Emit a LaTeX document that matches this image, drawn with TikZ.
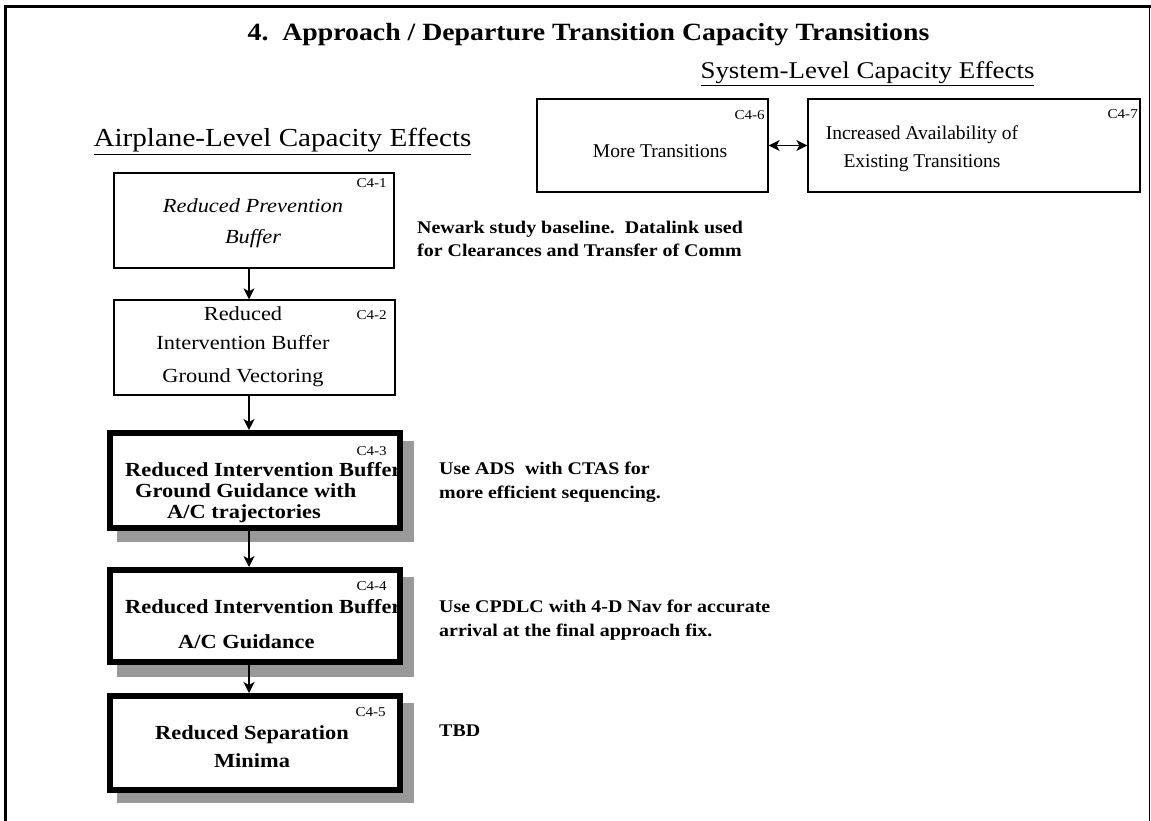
\documentclass[tikz,border=0pt]{standalone}
\usepackage{fontspec}
\setmainfont[FakeStretch=1.12]{Liberation Serif}
\newfontfamily\plainserif{Liberation Serif}
\usetikzlibrary{arrows.meta}
\newcommand\sz[2]{\fontsize{#1}{#2}\selectfont}
\definecolor{shade}{gray}{0.6}
\begin{document}
\begin{tikzpicture}[x=1pt,y=-1pt,
  thinbox/.style={draw, line width=1.3pt, inner sep=0pt},
  thickbox/.style={draw, fill=white, line width=6pt, inner sep=0pt,
    minimum width=290pt},
  txt/.style={inner sep=0pt, align=center, font=\sz{20}{24}},
  boldtxt/.style={txt, font=\bfseries\sz{20}{21}},
  tag/.style={inner sep=0pt, anchor=east, font=\sz{13.5}{15}},
  note/.style={inner sep=0pt, align=left, anchor=base west, font=\bfseries\sz{17.8}{23}},
  arr/.style={-{Stealth[length=11pt,width=11pt,inset=3pt]}, line width=1.3pt},
  dblarr/.style={{Stealth[length=11pt,width=11pt,inset=3pt]}-{Stealth[length=11pt,width=11pt,inset=3pt]}, line width=1.3pt},
  shadow/.style={fill=shade}]
\useasboundingbox (0,0) rectangle (1151,821);

% frame of the slide
\draw[line width=3pt] (5.5,821) -- (5.5,6.5) -- (1151,6.5);
\draw[shade, line width=1.5pt] (1149.5,7) -- (1149.5,821);

% headings
\node[inner sep=0pt, anchor=base, font=\bfseries\sz{24.8}{28}] (title) at (588.5,41)
  {4.\ \ Approach / Departure Transition Capacity Transitions};
\node[inner sep=0pt, anchor=base, font=\sz{24}{28}] (syshead) at (867.5,79)
  {\underline{System-Level Capacity Effects}};
\node[inner sep=0pt, anchor=base, font=\sz{26}{30}] (aphead) at (282.5,147)
  {\underline{Airplane-Level Capacity Effects}};

% system-level boxes
\node[thinbox, minimum width=231pt, minimum height=93pt] (b6) at (652.5,145.5) {};
\node[thinbox, minimum width=332pt, minimum height=93pt] (b7) at (974,145.5) {};
\node[txt, font=\plainserif\sz{19.5}{24}] (t6) at (660,151) {More Transitions};
\node[txt, font=\plainserif\sz{19.5}{28}] (t7) at (922,149) {Increased Availability of\\Existing Transitions};
\node[tag] (c6) at (765,115) {C4-6};
\node[tag] (c7) at (1138,114) {C4-7};
\draw[dblarr] (b6.east) -- (b7.west);

% airplane-level chain
\coordinate (ax) at (249,0);

\node[thinbox, minimum width=280pt, minimum height=95pt] (b1) at (254,220.5) {};
\node[txt, font=\itshape\sz{20}{31}] (t1) at (253,223) {Reduced Prevention\\Buffer};
\node[tag] (c1) at (387,183) {C4-1};

\node[thinbox, minimum width=281pt, minimum height=95pt] (b2) at (254.5,347.5) {};
\node[txt, font=\sz{20}{29}] (t2) at (243,347) {Reduced\\Intervention Buffer\\[4pt]Ground Vectoring};
\node[tag] (c2) at (387,315) {C4-2};

\fill[shadow] (117,441) rectangle (414,542);
\node[thickbox, minimum height=95pt] (b3) at (255,480.5) {};
\begin{scope}
  \clip (b3.north west) rectangle (b3.south east);
  \node[boldtxt, align=left, anchor=north west] (t3) at (125,462)
    {Reduced Intervention Buffer\\\hspace*{10pt}Ground Guidance with\\\hspace*{42pt}A/C trajectories};
\end{scope}
\node[tag] (c3) at (387,451) {C4-3};

\fill[shadow] (117,577) rectangle (414,677);
\node[thickbox, minimum height=92pt] (b4) at (255,616) {};
\begin{scope}
  \clip (b4.north west) rectangle (b4.south east);
  \node[boldtxt, align=left, anchor=north west, font=\bfseries\sz{20}{35}] (t4) at (125,599)
    {Reduced Intervention Buffer\\\hspace*{53pt}A/C Guidance};
\end{scope}
\node[tag] (c4) at (387,586) {C4-4};

\fill[shadow] (117,703) rectangle (414,803);
\node[thickbox, minimum height=94pt] (b5) at (255,743) {};
\node[boldtxt, font=\bfseries\sz{20}{28}] (t5) at (252,747) {Reduced Separation\\Minima};
\node[tag] (c5) at (386,712) {C4-5};

\draw[arr] (b1.south -| ax) -- (b2.north -| ax);
\draw[arr] (b2.south -| ax) -- (b3.north -| ax);
\draw[arr] (b3.south -| ax) -- (b4.north -| ax);
\draw[arr] (b4.south -| ax) -- (b5.north -| ax);

% notes beside the chain (anchored at the baseline of their last line)
\node[note] (n1) at (417,256) {Newark study baseline.\ \ Datalink used\\for Clearances and Transfer of Comm};
\node[note, font=\bfseries\sz{17.8}{24}] (n3) at (439,498) {Use ADS\ \ with CTAS for\\more efficient sequencing.};
\node[note, font=\bfseries\sz{17.8}{24}] (n4) at (439,636) {Use CPDLC with 4-D Nav for accurate\\arrival at the final approach fix.};
\node[note] (n5) at (439,736) {TBD};
\end{tikzpicture}
\end{document}
